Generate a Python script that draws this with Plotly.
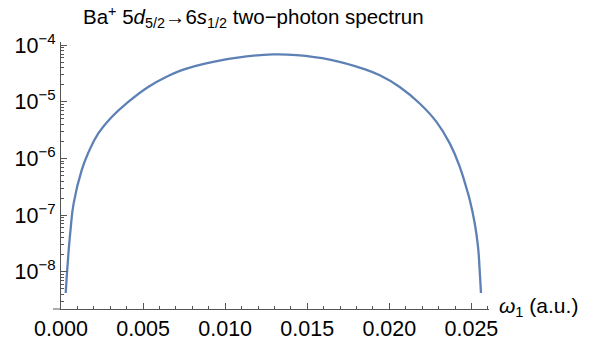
import plotly.graph_objects as go

# omega_1 (a.u.) and two-photon spectrum values
omega1 = [0.000286, 0.000408, 0.00058, 0.00077, 0.00126, 0.00166, 0.00227,
          0.00309, 0.00410, 0.00531, 0.00653, 0.00724, 0.00816, 0.00927,
          0.0113, 0.0129, 0.01435, 0.01637, 0.01838, 0.01942, 0.02063,
          0.02185, 0.02287, 0.02368, 0.02429, 0.02473, 0.0249, 0.0252,
          0.0254, 0.0255, 0.02558]
spectrum = [4.18e-9, 1.41e-8, 5.46e-8, 1.61e-7, 6.24e-7, 1.26e-6, 2.77e-6,
            5.43e-6, 1.0e-5, 1.84e-5, 2.88e-5, 3.55e-5, 4.29e-5, 5.13e-5,
            6.38e-5, 6.94e-5, 6.74e-5, 5.62e-5, 3.89e-5, 2.96e-5, 1.84e-5,
            9.38e-6, 4.44e-6, 1.85e-6, 7.14e-7, 2.77e-7, 1.85e-7, 7.16e-8,
            2.77e-8, 1.08e-8, 4.18e-9]

x_ticks = [0.000, 0.005, 0.010, 0.015, 0.020, 0.025]
x_tick_labels = ["0.000", "0.005", "0.010", "0.015", "0.020", "0.025"]
y_ticks = [1e-8, 1e-7, 1e-6, 1e-5, 1e-4]
y_tick_labels = ["10<sup>−8</sup>", "10<sup>−7</sup>", "10<sup>−6</sup>",
                 "10<sup>−5</sup>", "10<sup>−4</sup>"]
y_minor_ticks = [m * 10.0 ** e for e in range(-9, -4) for m in range(2, 10)]

title_text = ("Ba<sup>+</sup> 5<i>d</i><sub>5/2</sub>→6<i>s</i><sub>1/2</sub>"
              " two−photon spectrun")
xlabel_text = "<i>ω</i><sub>1</sub> (a.u.)"

FONT = "Liberation Sans, Arial, sans-serif"
AXC = "#555555"

# the page body adds an 8px offset; the figure is sized to fill the window
OFF = 8
W, H = 589 - OFF, 343 - OFF
L, R, T, B = 61 - OFF, 100, 42 - OFF, 34
plot_w = W - L - R
xmin, xmax = 0.0, 0.02607
ylo, yhi = -8.661, -3.94

fig = go.Figure()
fig.add_trace(go.Scatter(x=omega1, y=spectrum, mode="lines",
                         line=dict(color="#5E81B5", width=2.3, shape="spline",
                                   smoothing=1.3),
                         showlegend=False, hoverinfo="skip"))

fig.update_layout(
    width=W, height=H,
    margin=dict(l=L, r=R, t=T, b=B, autoexpand=False),
    paper_bgcolor="white", plot_bgcolor="white",
    font=dict(family=FONT, size=21, color="black"),
    title=dict(text=title_text, x=(83 - OFF) / W, xanchor="left",
               y=1 - (17 - OFF) / H, yanchor="middle",
               font=dict(family=FONT, size=20.5, color="black")),
    xaxis=dict(range=[xmin, xmax], showgrid=False, zeroline=False,
               automargin=False,
               showline=True, linecolor=AXC, linewidth=1,
               tickvals=x_ticks, ticktext=x_tick_labels,
               ticks="inside", ticklen=6, tickcolor=AXC, tickwidth=1,
               minor=dict(ticks="inside", ticklen=3, dtick=0.001, tick0=0,
                          tickcolor=AXC, showgrid=False),
               tickfont=dict(size=21.5)),
    yaxis=dict(type="log", range=[ylo, yhi], showgrid=False, zeroline=False,
               automargin=False,
               showline=True, linecolor=AXC, linewidth=1,
               tickvals=y_ticks, ticktext=y_tick_labels,
               ticks="inside", ticklen=6, tickcolor=AXC, tickwidth=1,
               tickfont=dict(size=21.5)),
    yaxis2=dict(type="log", range=[ylo, yhi], overlaying="y", side="left",
                anchor="x", automargin=False,
                showgrid=False, zeroline=False, showline=False,
                tickvals=y_minor_ticks, showticklabels=False,
                ticks="inside", ticklen=3, tickcolor=AXC, tickwidth=1),
)

# invisible trace to activate the minor-tick overlay axis
fig.add_trace(go.Scatter(x=[None], y=[None], yaxis="y2", showlegend=False,
                         hoverinfo="skip"))

# x-axis line extends slightly left of the y axis, as in the reference
fig.add_shape(type="line", xref="paper", yref="paper",
              x0=-8 / plot_w, x1=0, y0=0, y1=0,
              line=dict(color=AXC, width=1))

fig.add_annotation(text=xlabel_text, xref="paper", yref="paper",
                   x=1, y=0, xanchor="left", yanchor="middle",
                   xshift=8, yshift=2, showarrow=False,
                   font=dict(family=FONT, size=21, color="black"))

fig.write_html("out.html")
